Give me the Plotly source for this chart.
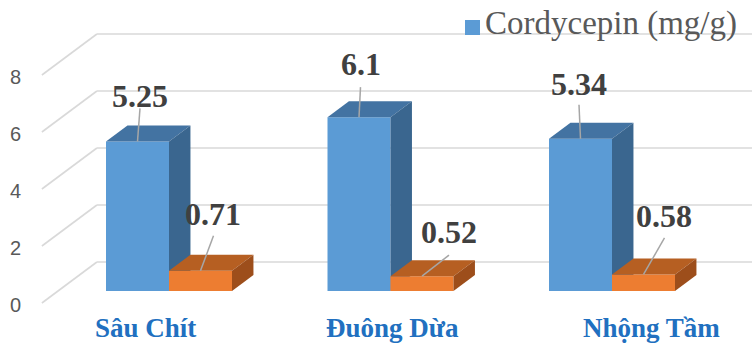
import plotly.graph_objects as go

# ---------------- data ----------------
categories = ["Sâu Chít", "Đuông Dừa", "Nhộng Tầm"]
cordycepin = [5.25, 6.1, 5.34]
second_series = [0.71, 0.52, 0.58]
cordycepin_labels = ["5.25", "6.1", "5.34"]
second_labels = ["0.71", "0.52", "0.58"]
tick_values = [0, 2, 4, 6, 8]
legend_name = "Cordycepin (mg/g)"

# ---------------- geometry / style constants ----------------
W, H = 752, 346
PX_CAT = 221.5          # pixels per category unit
PX_VAL = 28.5           # pixels per value unit
X0_PX, Y0_PX = 169, 291 # pixel of category 0 / value 0 at bar front plane
SLOPE = 55.0 / 41.0     # x pixels per depth pixel (oblique projection)
BAR_W = 63 / PX_CAT
BAR_DEPTH = 16
BACK_DEPTH = 29
FRONT_DEPTH = -12
LEFT_WALL_X = (58 - X0_PX) / PX_CAT

BLUE = dict(front="#5B9BD5", top="#4373A2", side="#3A668F")
ORANGE = dict(front="#ED7D31", top="#B65F22", side="#9D4E1B")
GRID = "#D9D9D9"
SERIF = "Liberation Serif"

x_range = [(0 - X0_PX) / PX_CAT, (W - X0_PX) / PX_CAT]
y_range = [(Y0_PX - H) / PX_VAL, Y0_PX / PX_VAL]


def proj(x, v, depth):
    """Oblique projection of (category x, value v, depth in px) into data coords."""
    return x + depth * SLOPE / PX_CAT, v + depth / PX_VAL


fig = go.Figure()


def poly(points, color):
    xs = [p[0] for p in points] + [points[0][0]]
    ys = [p[1] for p in points] + [points[0][1]]
    fig.add_trace(go.Scatter(x=xs, y=ys, mode="lines", fill="toself",
                             fillcolor=color, line=dict(width=0, color=color),
                             hoverinfo="skip", showlegend=False))


def line(p1, p2, color, width):
    fig.add_trace(go.Scatter(x=[p1[0], p2[0]], y=[p1[1], p2[1]], mode="lines",
                             line=dict(color=color, width=width),
                             hoverinfo="skip", showlegend=False))


# ---- walls: gridlines ----
for v in tick_values:
    a = proj(LEFT_WALL_X, v, FRONT_DEPTH)
    b = proj(LEFT_WALL_X, v, BACK_DEPTH)
    line(a, b, GRID, 1.6)
    line(b, (x_range[1] + 0.05, b[1]), GRID, 1.6)


# ---- 3D bars ----
def bar3d(x_left, value, colors):
    xl, xr = x_left, x_left + BAR_W
    d0, d1 = 0, BAR_DEPTH
    poly([proj(xl, 0, d0), proj(xr, 0, d0), proj(xr, value, d0), proj(xl, value, d0)], colors["front"])
    poly([proj(xl, value, d0), proj(xr, value, d0), proj(xr, value, d1), proj(xl, value, d1)], colors["top"])
    poly([proj(xr, 0, d0), proj(xr, 0, d1), proj(xr, value, d1), proj(xr, value, d0)], colors["side"])


for i in range(len(categories)):
    bar3d(i - BAR_W, cordycepin[i], BLUE)
    bar3d(i, second_series[i], ORANGE)

annotations = []

# ---- data labels with leader lines ----
# (label offset from bar top-front centre in px, leader start below label centre in px)
blue_offsets = [(2.5, -44, 11), (1.5, -52, 22), (-1.5, -54, 20)]
orange_offsets = [(12.5, -56, 21), (26.5, -43, 22), (20.5, -57.5, 21)]


def data_label(xc, value, text, off):
    dx, dy, gap = off
    annotations.append(dict(x=xc, y=value, xref="x", yref="y", text="<b>" + text + "</b>",
                            showarrow=False, xshift=dx, yshift=-dy + 1,
                            xanchor="center", yanchor="middle",
                            font=dict(family=SERIF, size=32, color="#404040")))
    start = (xc + (dx + (0.5 if dx > 5 else 0)) / PX_CAT, value - (dy + gap) / PX_VAL)
    line(start, (xc, value), "#A6A6A6", 1.5)


for i in range(len(categories)):
    data_label(i - BAR_W / 2, cordycepin[i], cordycepin_labels[i], blue_offsets[i])
    data_label(i + BAR_W / 2, second_series[i], second_labels[i], orange_offsets[i])

# ---- value tick labels on the left wall front edge ----
for v in tick_values:
    fx, fy = proj(LEFT_WALL_X, v, FRONT_DEPTH)
    annotations.append(dict(x=fx, y=fy, xref="x", yref="y", text=str(v), showarrow=False,
                            xshift=-26.5, yshift=-2, xanchor="center", yanchor="middle",
                            font=dict(family="Liberation Sans", size=20, color="#595959")))

# ---- category labels ----
cat_shift_px = [-23.5, 2, 39]
for i, c in enumerate(categories):
    annotations.append(dict(x=i, y=1 - 328 / H, xref="x", yref="paper", text="<b>" + c + "</b>",
                            showarrow=False, xshift=cat_shift_px[i], xanchor="center", yanchor="middle",
                            font=dict(family=SERIF, size=27, color="#2170C0")))

# ---- legend ----
annotations.append(dict(x=483 / W, y=1 - 24 / H, xref="paper", yref="paper", text=legend_name,
                        showarrow=False, xanchor="left", yanchor="middle",
                        font=dict(family=SERIF, size=33, color="#595959")))
shapes = [dict(type="rect", xref="paper", yref="paper", x0=465 / W, x1=480 / W,
               y0=1 - 35 / H, y1=1 - 20 / H, fillcolor=BLUE["front"], line=dict(width=0))]

fig.update_layout(
    width=W, height=H, margin=dict(l=0, r=0, t=0, b=0),
    paper_bgcolor="white", plot_bgcolor="white",
    xaxis=dict(range=x_range, visible=False, fixedrange=True),
    yaxis=dict(range=y_range, visible=False, fixedrange=True),
    annotations=annotations, shapes=shapes, showlegend=False,
)

fig.write_html("out.html")
